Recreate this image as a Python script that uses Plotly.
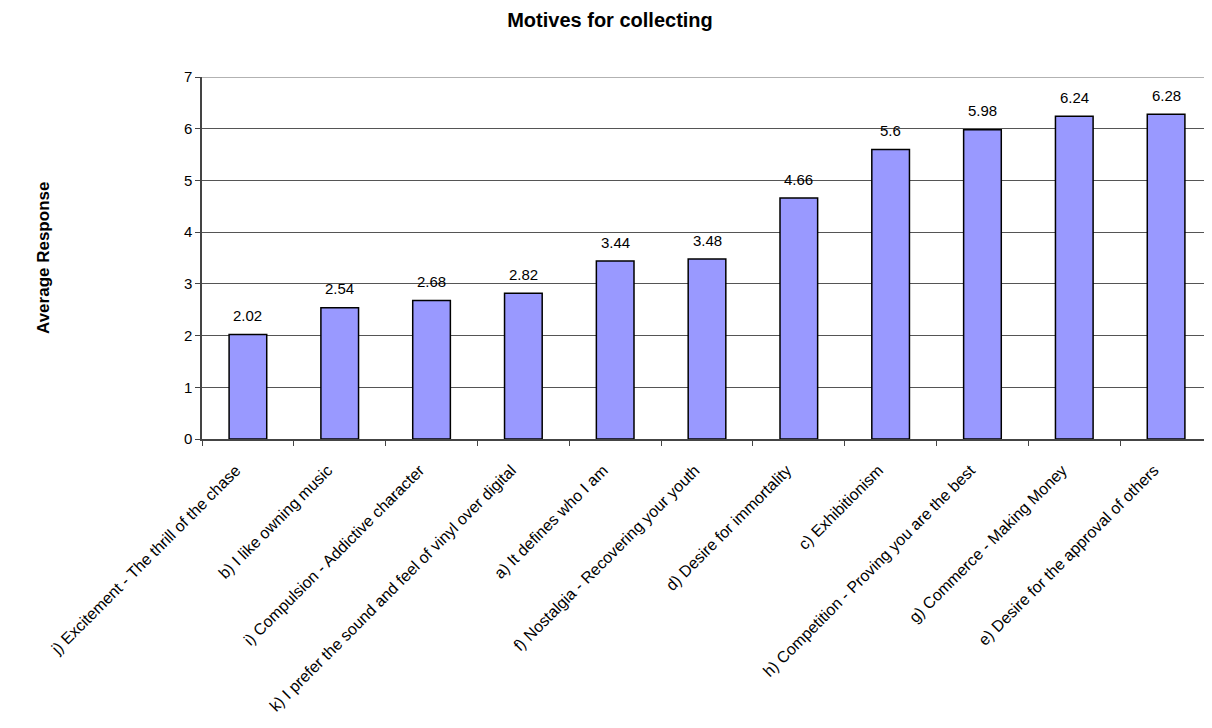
import plotly.graph_objects as go

categories = [
    "j) Excitement - The thrill of the chase",
    "b) I like owning music",
    "i) Compulsion - Addictive character",
    "k) I prefer the sound and feel of vinyl over digital",
    "a) It defines who I am",
    "f) Nostalgia - Recovering your youth",
    "d) Desire for immortality",
    "c) Exhibitionism",
    "h) Competition - Proving you are the best",
    "g) Commerce - Making Money",
    "e) Desire for the approval of others",
]
values = [2.02, 2.54, 2.68, 2.82, 3.44, 3.48, 4.66, 5.6, 5.98, 6.24, 6.28]
value_labels = ["2.02", "2.54", "2.68", "2.82", "3.44", "3.48", "4.66", "5.6", "5.98", "6.24", "6.28"]
y_ticks = [0, 1, 2, 3, 4, 5, 6, 7]

font = "Liberation Sans, Arial, sans-serif"
# the page body has an 8px default margin, so compensate
OFF = 8
W, H = 1212 - OFF, 728 - OFF

fig = go.Figure(go.Bar(
    x=categories, y=values,
    marker=dict(color="#9999FF", line=dict(color="#000000", width=1.5)),
))

for c, v, t in zip(categories, values, value_labels):
    fig.add_annotation(x=c, y=v, text=t, showarrow=False, yanchor="middle",
                       yshift=19, font=dict(family=font, size=15, color="#000"))

fig.update_layout(
    width=W, height=H,
    margin=dict(l=202 - OFF, r=0, t=77 - OFF, b=289, autoexpand=False),
    paper_bgcolor="white", plot_bgcolor="white",
    bargap=0.59,
    showlegend=False,
    title=dict(text="<b>Motives for collecting</b>", x=(610 - OFF) / W, xanchor="center",
               y=1 - (20 - OFF) / H, yanchor="middle",
               font=dict(family=font, size=20, color="#000")),
    font=dict(family=font, color="#000"),
)
fig.update_xaxes(
    tickangle=-45, tickfont=dict(family=font, size=16, color="#000"),
    showline=True, linecolor="#444", linewidth=1.5,
    ticks="outside", tickson="boundaries", ticklen=5, tickcolor="#444",
    showgrid=False, ticklabelstandoff=14, ticklabelshift=-12, automargin=False,
)
fig.update_yaxes(
    range=[0, 7], tickvals=y_ticks, tickfont=dict(family=font, size=15, color="#000"),
    showline=True, linecolor="#444", linewidth=1.5,
    ticks="outside", ticklen=5, tickcolor="#444",
    showgrid=True, gridcolor="#555", gridwidth=1, zeroline=False, automargin=False,
)
# lighter frame line along the top of the plot area
fig.add_shape(type="line", xref="paper", x0=0, x1=1, yref="y",
              y0=y_ticks[-1], y1=y_ticks[-1], line=dict(color="#999", width=1.5))
fig.add_annotation(
    text="<b>Average Response</b>", xref="paper", yref="paper",
    x=(43 - 202) / 1010, y=0.5, xanchor="center", yanchor="middle",
    textangle=-90, showarrow=False, font=dict(family=font, size=17, color="#000"),
)

fig.write_html("out.html")
